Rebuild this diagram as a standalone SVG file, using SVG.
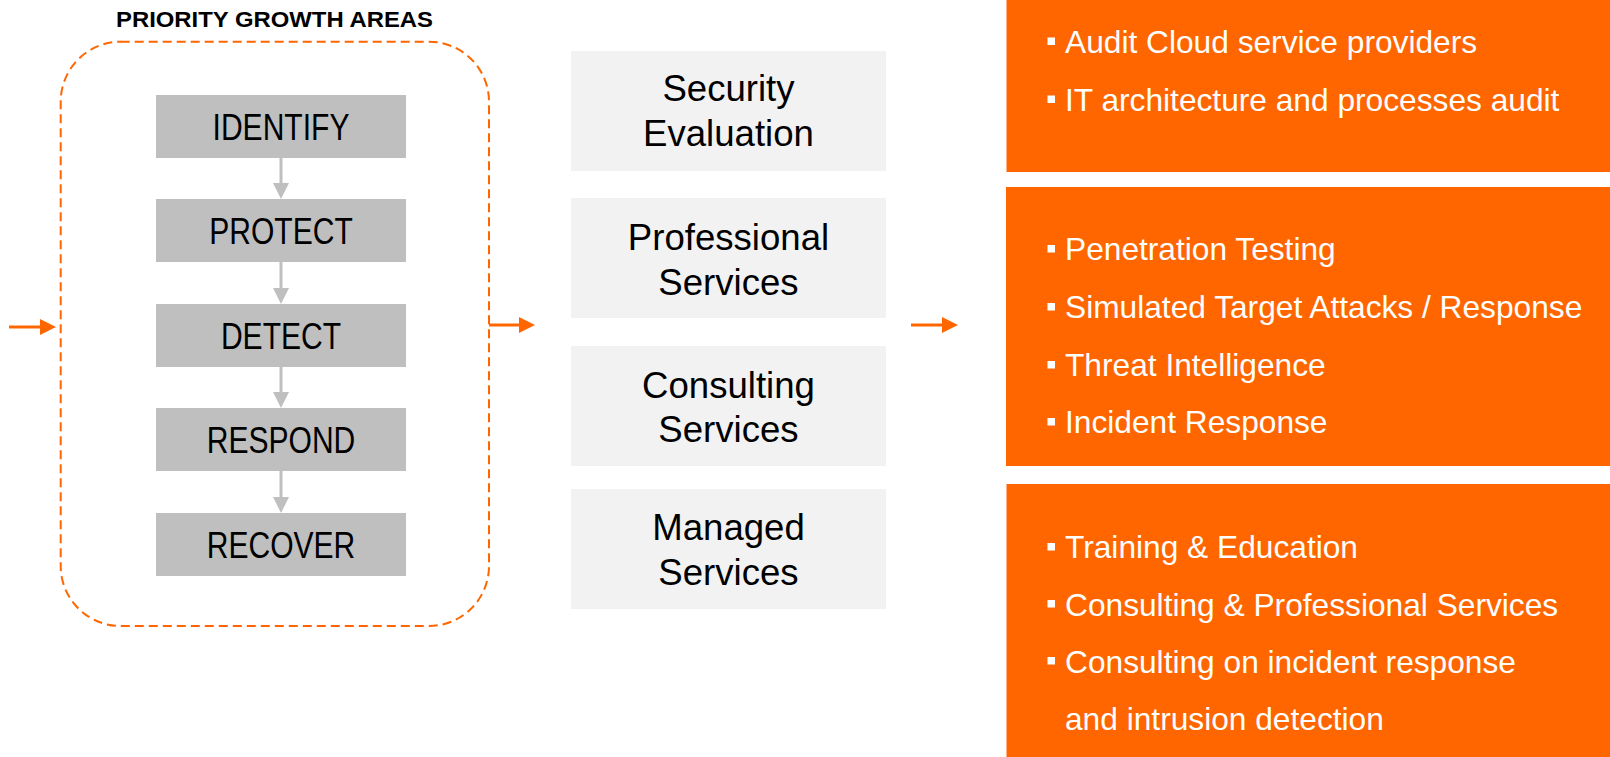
<svg xmlns="http://www.w3.org/2000/svg" width="1610" height="757" viewBox="0 0 1610 757">
<style>
.t{font-family:"Liberation Sans",Arial,sans-serif}
.title{font-size:22.5px;font-weight:bold;fill:#000;text-anchor:middle}
.gbox{fill:#BFBFBF}
.glbl{font-size:36px;fill:#000;text-anchor:middle}
.lbox{fill:#F2F2F2}
.mlbl{font-size:36.6px;fill:#000;text-anchor:middle}
.obox{fill:#FF6600}
.olbl{font-size:31.7px;fill:#fff}
.bul{fill:#fff}
.garr{stroke:#BFBFBF;stroke-width:3;fill:none}
.oarr{stroke:#FF6600;stroke-width:3;fill:none}
</style>
<defs>
<marker id="gh" markerUnits="userSpaceOnUse" markerWidth="16" markerHeight="16" refX="0" refY="8" orient="auto" viewBox="0 0 16 16"><path d="M0,0 L16,8 L0,16 z" fill="#BFBFBF"/></marker>
<marker id="oh" markerUnits="userSpaceOnUse" markerWidth="16" markerHeight="16" refX="0" refY="8" orient="auto" viewBox="0 0 16 16"><path d="M0,0 L16,8 L0,16 z" fill="#FF6600"/></marker>
</defs>
<rect width="1610" height="757" fill="#fff"/>
<g id="title"><text class="t title" x="274.5" y="26.5" textLength="317" lengthAdjust="spacingAndGlyphs">PRIORITY GROWTH AREAS</text></g>
<g id="growth-area"><rect x="60.7" y="41.7" width="428.3" height="584.3" rx="60" ry="60" fill="none" stroke="#FF6600" stroke-width="2" stroke-dasharray="9 5"/></g>
<g id="identify"><rect class="gbox" x="156" y="95" width="250" height="63"/><text class="t glbl" transform="translate(281,139.5) scale(0.835,1)">IDENTIFY</text></g>
<g id="protect"><rect class="gbox" x="156" y="199" width="250" height="63"/><text class="t glbl" transform="translate(281,243.5) scale(0.835,1)">PROTECT</text></g>
<g id="detect"><rect class="gbox" x="156" y="304" width="250" height="63"/><text class="t glbl" transform="translate(281,348.5) scale(0.835,1)">DETECT</text></g>
<g id="respond"><rect class="gbox" x="156" y="408" width="250" height="63"/><text class="t glbl" transform="translate(281,452.5) scale(0.835,1)">RESPOND</text></g>
<g id="recover"><rect class="gbox" x="156" y="513" width="250" height="63"/><text class="t glbl" transform="translate(281,557.5) scale(0.835,1)">RECOVER</text></g>
<g id="security-evaluation"><rect class="lbox" x="571" y="51" width="315" height="120"/><text class="t mlbl" x="728.5" y="101">Security</text><text class="t mlbl" x="728.5" y="146">Evaluation</text></g>
<g id="professional-services"><rect class="lbox" x="571" y="198" width="315" height="120"/><text class="t mlbl" x="728.5" y="250">Professional</text><text class="t mlbl" x="728.5" y="295">Services</text></g>
<g id="consulting-services"><rect class="lbox" x="571" y="346" width="315" height="120"/><text class="t mlbl" x="728.5" y="397.5">Consulting</text><text class="t mlbl" x="728.5" y="441.5">Services</text></g>
<g id="managed-services"><rect class="lbox" x="571" y="489" width="315" height="120"/><text class="t mlbl" x="728.5" y="540">Managed</text><text class="t mlbl" x="728.5" y="585">Services</text></g>
<g id="audit-box"><rect class="obox" x="1006.5" y="0" width="603.5" height="172"/>
<rect class="bul" x="1047.5" y="37.5" width="7.5" height="7.5"/><text class="t olbl" x="1065" y="53.3">Audit Cloud service providers</text>
<rect class="bul" x="1047.5" y="95.5" width="7.5" height="7.5"/><text class="t olbl" x="1065" y="111">IT architecture and processes audit</text></g>
<g id="testing-box"><rect class="obox" x="1006" y="187" width="604" height="279"/>
<rect class="bul" x="1047.5" y="245" width="7.5" height="7.5"/><text class="t olbl" x="1065" y="260">Penetration Testing</text>
<rect class="bul" x="1047.5" y="303" width="7.5" height="7.5"/><text class="t olbl" x="1065" y="318.3">Simulated Target Attacks / Response</text>
<rect class="bul" x="1047.5" y="361" width="7.5" height="7.5"/><text class="t olbl" x="1065" y="376">Threat Intelligence</text>
<rect class="bul" x="1047.5" y="418" width="7.5" height="7.5"/><text class="t olbl" x="1065" y="433.3">Incident Response</text></g>
<g id="training-box"><rect class="obox" x="1006.5" y="484" width="603.5" height="273"/>
<rect class="bul" x="1047.5" y="543" width="7.5" height="7.5"/><text class="t olbl" x="1065" y="558.3">Training &amp; Education</text>
<rect class="bul" x="1047.5" y="600" width="7.5" height="7.5"/><text class="t olbl" x="1065" y="615.7">Consulting &amp; Professional Services</text>
<rect class="bul" x="1047.5" y="657" width="7.5" height="7.5"/><text class="t olbl" x="1065" y="672.7">Consulting on incident response</text>
<text class="t olbl" x="1065" y="730">and intrusion detection</text></g>
<g id="connectors">
<line class="garr" x1="281" y1="158" x2="281" y2="183" marker-end="url(#gh)"/>
<line class="garr" x1="281" y1="262" x2="281" y2="288" marker-end="url(#gh)"/>
<line class="garr" x1="281" y1="367" x2="281" y2="392" marker-end="url(#gh)"/>
<line class="garr" x1="281" y1="471" x2="281" y2="497" marker-end="url(#gh)"/>
<line class="oarr" x1="9" y1="327" x2="40" y2="327" marker-end="url(#oh)"/>
<line class="oarr" x1="489" y1="325" x2="519" y2="325" marker-end="url(#oh)"/>
<line class="oarr" x1="911" y1="325" x2="942" y2="325" marker-end="url(#oh)"/>
</g>
</svg>
